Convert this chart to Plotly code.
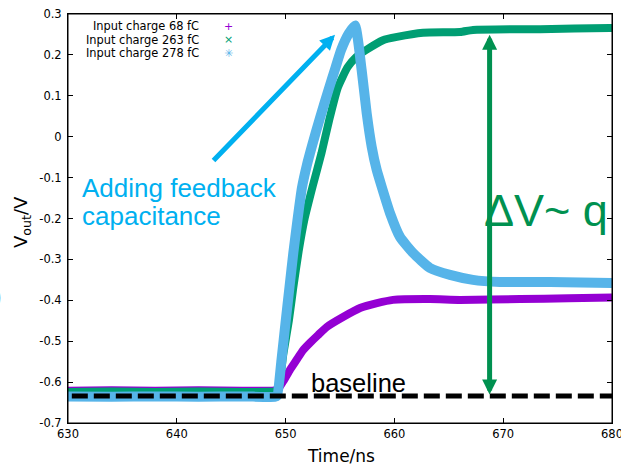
import plotly.graph_objects as go

# ---- data ----
t_68 = [630, 634, 638, 642, 646, 649.0, 649.39, 649.85, 650.4, 651.0, 651.6, 652.24, 652.98,
        653.8, 655.28, 656.84, 658.4, 659.87, 663.27, 666.03, 671.54, 676.0, 680.0]
v_68 = [-0.621, -0.620, -0.621, -0.620, -0.621, -0.620, -0.614, -0.595, -0.570, -0.546, -0.522,
        -0.504, -0.485, -0.465, -0.441, -0.419, -0.407, -0.399, -0.397, -0.399, -0.397, -0.395, -0.393]

t_263 = [630, 634, 638, 642, 646, 649.0, 649.3, 649.8, 650.3, 650.7, 651.2, 651.75, 652.5,
         653.3, 654.0, 654.8, 655.7, 656.5, 657.4, 658.95, 660.24, 662.63, 666.03, 667.22,
         673.4, 679.8, 680.0]
v_263 = [-0.624, -0.623, -0.624, -0.623, -0.624, -0.623, -0.619, -0.530, -0.450, -0.370, -0.280,
         -0.200, -0.120, -0.040, 0.040, 0.120, 0.170, 0.195, 0.212, 0.236, 0.244, 0.254, 0.256,
         0.261, 0.263, 0.266, 0.266]

t_278 = [630, 634, 638, 642, 646, 649.0, 649.21, 649.62, 650.02, 650.36, 650.71, 651.09, 651.5,
         651.95, 652.45, 653.15, 653.95, 654.6, 655.1, 655.8, 656.38, 656.99, 657.45, 657.91,
         658.37, 658.83, 659.6, 660.51, 661.71, 663.27, 665.11, 667.22, 669.7, 674.3, 680.0]
v_278 = [-0.635, -0.636, -0.635, -0.636, -0.635, -0.636, -0.634, -0.546, -0.448, -0.367, -0.284,
         -0.204, -0.125, -0.070, -0.020, 0.045, 0.115, 0.170, 0.212, 0.252, 0.272, 0.163, 0.058,
         -0.024, -0.081, -0.122, -0.187, -0.245, -0.284, -0.321, -0.338, -0.350, -0.355, -0.355,
         -0.358]

baseline_level = -0.634
dv_top = 0.249
series_names = ["Input charge 68 fC", "Input charge 263 fC", "Input charge 278 fC"]
series_symbols = ["+", "×", "✳"]
series_colors = ["#9400d3", "#009e73", "#56b4e9"]

x_ticks = [630, 640, 650, 660, 670, 680]
y_ticks = [0.3, 0.2, 0.1, 0, -0.1, -0.2, -0.3, -0.4, -0.5, -0.6, -0.7]
y_ticktext = ["0.3", "0.2", "0.1", "0", "-0.1", "-0.2", "-0.3", "-0.4", "-0.5", "-0.6", "-0.7"]

# ---- figure ----
W, H = 621, 465
L, R, T, B = 68, 9, 14, 42
pw, ph = W - L - R, H - T - B


def px(xpix):
    return (xpix - L) / pw


def py(ypix):
    return (H - B - ypix) / ph


fig = go.Figure()
for t, v, c, w in [(t_68, v_68, series_colors[0], 8), (t_263, v_263, series_colors[1], 8),
                   (t_278, v_278, series_colors[2], 10)]:
    fig.add_trace(go.Scatter(x=t, y=v, mode="lines",
                             line=dict(color=c, width=w, shape="spline", smoothing=0.5),
                             showlegend=False, hoverinfo="skip"))

fig.add_trace(go.Scatter(x=[x_ticks[0] + 0.35, x_ticks[-1]], y=[baseline_level, baseline_level],
                         mode="lines", line=dict(color="black", width=5, dash="16px,6px"),
                         showlegend=False, hoverinfo="skip"))

ann = []
# legend (gnuplot style: text then symbol)
for i, (nm, sym, col) in enumerate(zip(series_names, series_symbols, series_colors)):
    yy = py(26 + i * 13.6)
    ann.append(dict(xref="paper", yref="paper", x=px(201), y=yy, text=nm, showarrow=False,
                    xanchor="right", yanchor="middle",
                    font=dict(family="DejaVu Sans", size=11.4, color="black")))
    ann.append(dict(xref="paper", yref="paper", x=px(228), y=yy, text=sym, showarrow=False,
                    xanchor="center", yanchor="middle",
                    font=dict(family="DejaVu Sans", size=11, color=col)))

# axis titles
ann.append(dict(xref="paper", yref="paper", x=px(341), y=py(456), text="Time/ns",
                showarrow=False, xanchor="center", yanchor="middle",
                font=dict(family="DejaVu Sans", size=17, color="black")))
ann.append(dict(xref="paper", yref="paper", x=px(22), y=py(222), text="V<sub>out</sub>/V",
                showarrow=False, xanchor="center", yanchor="middle", textangle=-90,
                font=dict(family="DejaVu Sans", size=18, color="black")))

# blue arrow + text
ann.append(dict(xref="x", yref="y", axref="x", ayref="y", x=654.54, y=0.249, ax=643.24, ay=-0.062,
                text="", showarrow=True, arrowhead=2, arrowsize=0.6, arrowwidth=5,
                arrowcolor="#00b0f0", standoff=0))
ann.append(dict(xref="paper", yref="paper", x=px(80), y=py(188), text="Adding feedback",
                showarrow=False, xanchor="left", yanchor="middle",
                font=dict(family="Liberation Sans", size=26, color="#00b0f0")))
ann.append(dict(xref="paper", yref="paper", x=px(80), y=py(216), text="capacitance",
                showarrow=False, xanchor="left", yanchor="middle",
                font=dict(family="Liberation Sans", size=26, color="#00b0f0")))

# green double arrow + text
ann.append(dict(xref="x", yref="y", axref="x", ayref="y", x=668.75, y=dv_top, ax=668.75,
                ay=baseline_level, text="", showarrow=True, arrowhead=2, arrowsize=0.6,
                startarrowhead=2, startarrowsize=0.6, arrowside="end+start", arrowwidth=5,
                arrowcolor="#009150", standoff=0, startstandoff=0))
ann.append(dict(xref="paper", yref="paper", x=px(482), y=py(210), text="ΔV~ q",
                showarrow=False, xanchor="left", yanchor="middle",
                font=dict(family="Liberation Sans", size=45, color="#009150")))

# baseline label
ann.append(dict(xref="paper", yref="paper", x=px(309), y=py(383), text="baseline",
                showarrow=False, xanchor="left", yanchor="middle",
                font=dict(family="Liberation Sans", size=25.5, color="black")))

# fragment at left edge
ann.append(dict(xref="paper", yref="paper", x=px(4), y=py(296), text=")",
                showarrow=False, xanchor="right", yanchor="middle",
                font=dict(family="Liberation Sans", size=26, color="#1a3cff")))

axis_common = dict(showline=True, linecolor="black", linewidth=1, mirror="ticks",
                   ticks="inside", ticklen=5, tickwidth=1, tickcolor="black",
                   showgrid=False, zeroline=False, ticklabeloverflow="allow", automargin=False,
                   tickfont=dict(family="DejaVu Sans", size=11.5, color="black"))

fig.update_layout(
    width=W, height=H, margin=dict(l=L, r=R, t=T, b=B, pad=0, autoexpand=False),
    paper_bgcolor="white", plot_bgcolor="white",
    xaxis=dict(range=[630, 680], tickvals=x_ticks, **axis_common),
    yaxis=dict(range=[-0.7, 0.3], tickvals=y_ticks, ticktext=y_ticktext, ticklabelstandoff=3,
               **axis_common),
    annotations=ann,
    shapes=[dict(type="rect", xref="paper", yref="paper", x0=0, x1=1, y0=0, y1=1,
                 line=dict(color="black", width=1), fillcolor="rgba(0,0,0,0)", layer="above")],
    showlegend=False,
)

fig.write_html("out.html", config={"displayModeBar": False},
               post_script="document.body.style.margin='0px';document.body.style.overflow='hidden';")
